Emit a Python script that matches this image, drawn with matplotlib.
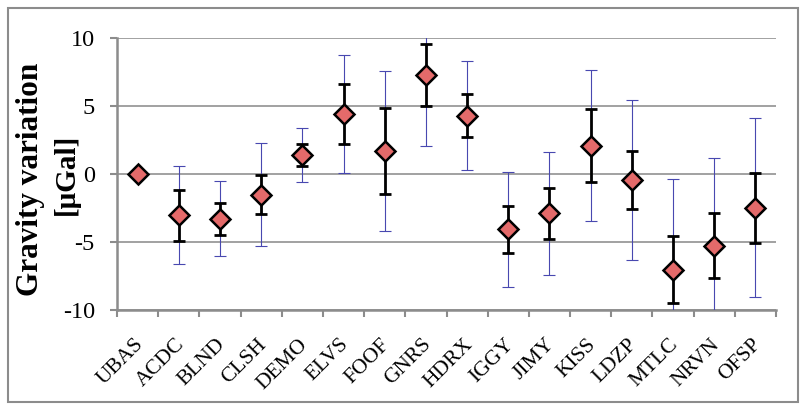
import numpy as np
import matplotlib
matplotlib.use("Agg")
import matplotlib.pyplot as plt
from matplotlib.patches import Rectangle
from matplotlib.transforms import ScaledTranslation

# stations and measured gravity variation (microGal)
stations = ["UBAS", "ACDC", "BLND", "CLSH", "DEMO", "ELVS", "FOOF", "GNRS",
            "HDRX", "IGGY", "JIMY", "KISS", "LDZP", "MTLC", "NRVN", "OFSP"]
values = [0.0, -3.02, -3.29, -1.52, 1.40, 4.40, 1.70, 7.30,
          4.30, -4.08, -2.90, 2.09, -0.44, -7.05, -5.28, -2.48]
# small (black) and large (blue) error bars
err_black = [0.0, 1.87, 1.19, 1.43, 0.81, 2.20, 3.18, 2.29,
             1.58, 1.70, 1.90, 2.66, 2.14, 2.47, 2.40, 2.58]
err_blue = [0.0, 3.62, 2.77, 3.77, 1.97, 4.33, 5.86, 5.26,
            4.03, 4.25, 4.55, 5.54, 5.91, 6.71, 6.46, 6.58]

plt.rcParams["font.family"] = ["Liberation Serif", "DejaVu Serif"]

fig = plt.figure(figsize=(8.06, 4.11), dpi=100)
ax = fig.add_axes([117/806, 1-310/411, (776-117)/806, (310-38)/411])

x = np.arange(len(stations))

ax.errorbar(x, values, yerr=err_blue, fmt="none", ecolor="#4848b0",
            elinewidth=0.8, capsize=4.5, capthick=0.8, zorder=3)
ax.errorbar(x, values, yerr=err_black, fmt="none", ecolor="black",
            elinewidth=2.0, capsize=4.5, capthick=2.0, zorder=4)
ax.plot(x, values, "D", ms=10, mfc="#e46a6a", mec="black", mew=1.8,
        zorder=5)

ax.set_xlim(-0.5, len(stations) - 0.5)
ax.set_ylim(-10, 10)
ax.set_yticks([-10, -5, 0, 5, 10])
ax.set_yticklabels(["-10", "-5", "0", "5", "10"])
ax.grid(axis="y", color="#9a9a9a", lw=1.3)
ax.set_axisbelow(True)

for s in ["top", "right"]:
    ax.spines[s].set_visible(False)
for s in ["left", "bottom"]:
    ax.spines[s].set_color("#8c8c8c")
    ax.spines[s].set_linewidth(1.8)

ax.tick_params(axis="y", direction="out", length=5, width=1.5,
               color="#8c8c8c", labelsize=17.5, pad=11)
ax.set_xticks(x)
ax.set_xticklabels(stations, rotation=45, ha="right", va="top",
                   rotation_mode="anchor", fontsize=15.5)
ax.tick_params(axis="x", which="major", length=0, pad=18)
shift = ScaledTranslation(-4/100, 0, fig.dpi_scale_trans)
for lab in ax.get_xticklabels():
    lab.set_transform(lab.get_transform() + shift)
ax.set_xticks(np.arange(-0.5, len(stations)), minor=True)
ax.tick_params(axis="x", which="minor", direction="out", length=5, width=1.5,
               color="#8c8c8c")

# y axis title, two lines
fig.text(31/806, 1-179/411, "Gravity variation", fontsize=22.5,
         fontweight="bold", rotation=90, ha="center", va="center")
fig.text(66/806, 1-174/411, "[\u03bcGal]", fontsize=21,
         fontweight="bold", rotation=90, ha="center", va="center")

# outer frame of the chart
fig.patches.append(Rectangle((8/806, 9/411), 790/806, 394/411,
                             transform=fig.transFigure, fill=False,
                             edgecolor="#8c8c8c", lw=1.5))

plt.savefig("out.png", dpi=100)
